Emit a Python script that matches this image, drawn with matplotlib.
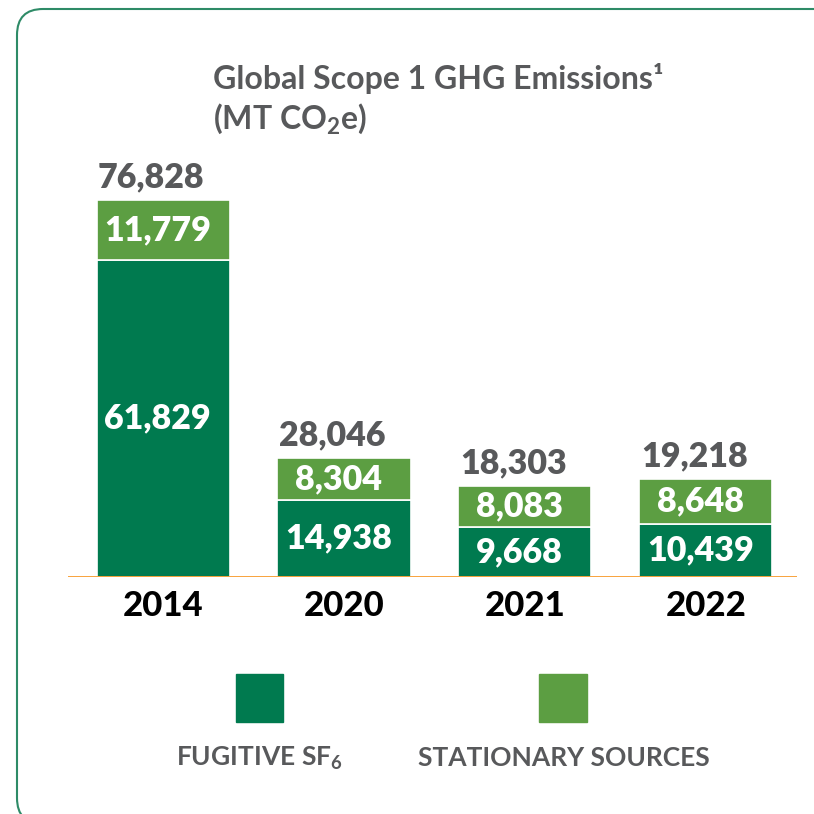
import matplotlib
matplotlib.use("Agg")
import matplotlib.pyplot as plt
from matplotlib.patches import FancyBboxPatch, Rectangle

# values (MT CO2e)
years = ["2014", "2020", "2021", "2022"]
fugitive_sf6 = [61829, 14938, 9668, 10439]
stationary = [11779, 8304, 8083, 8648]
totals = [76828, 28046, 18303, 19218]

DARK = "#007a4f"
LIGHT = "#5c9e42"
GRAY = "#58595b"
ORANGE = "#f7941d"
BORDER = "#2e8b67"

FONT = "Lato"
plt.rcParams["font.family"] = [FONT, "DejaVu Sans"]
plt.rcParams["mathtext.fontset"] = "custom"
plt.rcParams["mathtext.rm"] = f"{FONT}:bold"
plt.rcParams["mathtext.it"] = f"{FONT}:bold"
plt.rcParams["mathtext.bf"] = f"{FONT}:bold"

W = H = 814
fig = plt.figure(figsize=(W / 100, H / 100), dpi=100)


def fx(px):
    return px / W


def fy(py):
    return 1 - py / H


# plot area: baseline at y=577 px, tallest stack reaches y=200 px
ax = fig.add_axes([fx(68), fy(577), fx(797) - fx(68), fy(200) - fy(577)])

x = list(range(len(years)))
bar_w = 0.735
stack_tops = [f + s for f, s in zip(fugitive_sf6, stationary)]

ax.bar(x, fugitive_sf6, width=bar_w, color=DARK, edgecolor="white", linewidth=1.2)
ax.bar(x, stationary, width=bar_w, bottom=fugitive_sf6, color=LIGHT, edgecolor="white", linewidth=1.2)

num_style = dict(fontsize=24.5, fontweight="heavy")
for i in x:
    ax.text(i - 0.03, fugitive_sf6[i] / 2, f"{fugitive_sf6[i]:,}", ha="center", va="center",
            color="white", **num_style)
    ax.text(i - 0.03, fugitive_sf6[i] + stationary[i] / 2, f"{stationary[i]:,}", ha="center", va="center",
            color="white", **num_style)
    ax.annotate(f"{totals[i]:,}", xy=(i - bar_w / 2, stack_tops[i]), xytext=(1, 9),
                textcoords="offset points", ha="left", va="baseline",
                color=GRAY, annotation_clip=False, **num_style)

ax.axhline(0, color=ORANGE, linewidth=1.2, zorder=5)

ax.set_xlim(-0.525, 3.503)
ax.set_ylim(0, max(stack_tops))
ax.set_xticks(x, years)
ax.tick_params(axis="x", length=0, pad=9, labelsize=25, labelcolor="black")
for lbl in ax.get_xticklabels():
    lbl.set_fontweight("black")
ax.set_yticks([])
for side in ax.spines.values():
    side.set_visible(False)
ax.patch.set_visible(False)

# title
fig.text(fx(213), fy(89), "Global Scope 1 GHG Emissions¹", ha="left", va="baseline",
         fontsize=23, fontweight="bold", color=GRAY)
fig.text(fx(213), fy(129), "(MT CO$_2$e)", ha="left", va="baseline",
         fontsize=23, fontweight="bold", color=GRAY)

# legend: squares above labels
fig.add_artist(Rectangle((fx(236), fy(722)), fx(47), 48 / H, transform=fig.transFigure, color=DARK))
fig.add_artist(Rectangle((fx(539), fy(722)), fx(48), 48 / H, transform=fig.transFigure, color=LIGHT))
fig.text(fx(176), fy(766), "FUGITIVE SF$_6$", ha="left", va="baseline",
         fontsize=19, fontweight="bold", color=GRAY)
fig.text(fx(418), fy(766), "STATIONARY SOURCES", ha="left", va="baseline",
         fontsize=19, fontweight="bold", color=GRAY)

# rounded frame, only top-left part visible
fig.add_artist(FancyBboxPatch((fx(17), fy(824)), fx(860) - fx(17), fy(9) - fy(824),
                              boxstyle="round,pad=0,rounding_size=0.032",
                              transform=fig.transFigure, fill=False,
                              edgecolor=BORDER, linewidth=1.5))

fig.savefig("out.png", dpi=100)
